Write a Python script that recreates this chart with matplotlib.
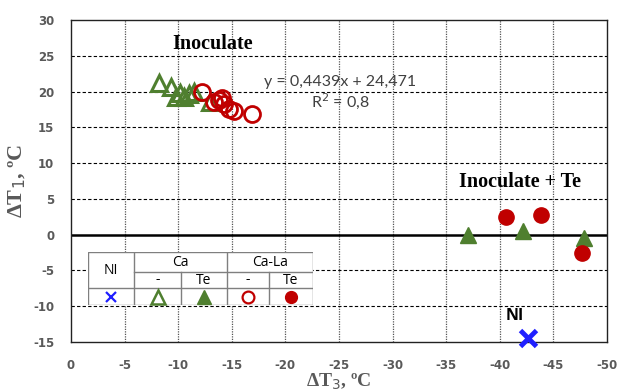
import matplotlib
matplotlib.use("Agg")
import matplotlib.pyplot as plt

# ---- data ----
ca_open_x = [-8.2, -9.3, -9.8, -10.2, -10.5, -11.0, -11.5, -13.0]
ca_open_y = [21.2, 20.6, 19.2, 19.8, 19.3, 19.6, 20.0, 18.5]
cala_open_x = [-12.2, -13.3, -13.8, -14.1, -14.3, -14.7, -15.2, -16.9]
cala_open_y = [19.9, 18.6, 18.8, 19.1, 18.3, 17.6, 17.3, 16.9]
ca_te_x = [-37.0, -42.2, -47.9]
ca_te_y = [0.0, 0.5, -0.4]
cala_te_x = [-40.6, -43.8, -47.7]
cala_te_y = [2.5, 2.8, -2.6]
ni_x = [-42.6]
ni_y = [-14.5]
xticks = [0, -5, -10, -15, -20, -25, -30, -35, -40, -45, -50]
yticks = [-15, -10, -5, 0, 5, 10, 15, 20, 25, 30]

GREEN = '#4F7F2F'
RED = '#C00000'
BLUE = '#1F1FFF'
GREY = '#595959'

W, H = 618, 392
fig = plt.figure(figsize=(W / 100, H / 100), dpi=100)
ax = fig.add_axes([71 / W, 1 - 342 / H, (607 - 71) / W, (342 - 20) / H])
ax.set_xlim(0, -50)
ax.set_ylim(-15, 30)
ax.set_xticks(xticks)
ax.set_yticks(yticks)
ax.set_xticklabels([str(t) for t in xticks])
ax.set_yticklabels([str(t) for t in yticks])
ax.tick_params(length=0, labelsize=8.5, labelcolor=GREY)
ax.tick_params(axis='x', pad=12)
ax.tick_params(axis='y', pad=12)
for lab in ax.get_xticklabels() + ax.get_yticklabels():
    lab.set_fontweight('bold')
    lab.set_fontfamily('DejaVu Sans')

# grid
for t in xticks[1:-1]:
    ax.axvline(t, color='#555555', lw=0.9, ls=(0, (1, 1)), zorder=0)
for t in yticks[1:-1]:
    if t != 0:
        ax.axhline(t, color='black', lw=0.8, ls=(0, (3, 2)), zorder=0)
ax.axhline(0, color='black', lw=1.8, zorder=1)
for s in ax.spines.values():
    s.set_color('#222222')
    s.set_linewidth(1.0)

# data
ax.plot(ca_open_x, ca_open_y, ls='none', marker='^', ms=12, mfc='none',
        mec=GREEN, mew=2.2, zorder=3)
ax.plot(cala_open_x, cala_open_y, ls='none', marker='o', ms=11.5, mfc='none',
        mec=RED, mew=2.0, zorder=3)
ax.plot(ca_te_x, ca_te_y, ls='none', marker='^', ms=12, mfc=GREEN,
        mec=GREEN, zorder=3)
ax.plot(cala_te_x, cala_te_y, ls='none', marker='o', ms=11, mfc=RED,
        mec=RED, zorder=3)
ax.plot(ni_x, ni_y, ls='none', marker='x', ms=12, mec=BLUE, mew=3.5,
        zorder=4, clip_on=False)

# annotations
ax.text(-13.25, 26.6, 'Inoculate', family='Liberation Serif', weight='bold',
        fontsize=14.5, ha='center', va='center')
ax.text(-41.9, 7.4, 'Inoculate + Te', family='Liberation Serif', weight='bold',
        fontsize=14.5, ha='center', va='center')
ax.text(-41.4, -11.4, 'NI', family='Open Sans', weight='bold', fontsize=11.5,
        ha='center', va='center')
ax.text(-25.1, 21.4, 'y = 0,4439x + 24,471', family='Lato', fontsize=11.5,
        ha='center', va='center', color='#404040')
ax.text(-25.1, 18.7, 'R$^2$ = 0,8', family='Lato', fontsize=11.5,
        ha='center', va='center', color='#404040')

ax.set_ylabel('ΔT$_1$, ºC', family='Liberation Serif', fontsize=16,
              weight='bold', color=GREY, labelpad=4)
fig.text((71 + 607) / 2 / W, 1 - 382 / H, 'ΔT$_3$, ºC', family='Liberation Serif',
         fontsize=14, weight='bold', color=GREY, ha='center', va='center')

# legend table
L, T, R, B = 88, 252, 313, 305
lax = fig.add_axes([L / W, 1 - B / H, (R - L) / W, (B - T) / H])
lax.set_xlim(L, R)
lax.set_ylim(B, T)
lax.axis('off')
lax.add_patch(plt.Rectangle((L, T), R - L, B - T, facecolor='white',
                            edgecolor='#7F7F7F', lw=1.0, zorder=0))
lc = '#7F7F7F'
c1, c2, c3, c4 = 134, 181, 227, 269
r1, r2 = 272, 288
lax.plot([c1, c1], [T, B], color=lc, lw=1.0)
lax.plot([c3, c3], [T, B], color=lc, lw=1.0)
lax.plot([c2, c2], [r1, B], color=lc, lw=1.0)
lax.plot([c4, c4], [r1, B], color=lc, lw=1.0)
lax.plot([c1, R], [r1, r1], color=lc, lw=1.0)
lax.plot([L, R], [r2, r2], color=lc, lw=1.0)
tf = dict(family='Open Sans', fontsize=10, ha='center', va='center', color='black')
lax.text((L + c1) / 2, (T + r2) / 2, 'NI', **tf)
lax.text((c1 + c3) / 2, (T + r1) / 2, 'Ca', **tf)
lax.text((c3 + R) / 2, (T + r1) / 2, 'Ca-La', **tf)
lax.text((c1 + c2) / 2, (r1 + r2) / 2, '-', **tf)
lax.text((c2 + c3) / 2, (r1 + r2) / 2, 'Te', **tf)
lax.text((c3 + c4) / 2, (r1 + r2) / 2, '-', **tf)
lax.text((c4 + R) / 2, (r1 + r2) / 2, 'Te', **tf)
ym = (r2 + B) / 2
lax.plot([(L + c1) / 2], [ym], marker='x', ms=6.5, mec=BLUE, mew=1.6)
lax.plot([(c1 + c2) / 2], [ym], marker='^', ms=10, mfc='none', mec=GREEN, mew=1.8)
lax.plot([(c2 + c3) / 2], [ym], marker='^', ms=10, mfc=GREEN, mec=GREEN)
lax.plot([(c3 + c4) / 2], [ym], marker='o', ms=8.5, mfc='none', mec=RED, mew=1.6)
lax.plot([(c4 + R) / 2], [ym], marker='o', ms=8.5, mfc=RED, mec=RED)

fig.savefig('out.png', dpi=100)
